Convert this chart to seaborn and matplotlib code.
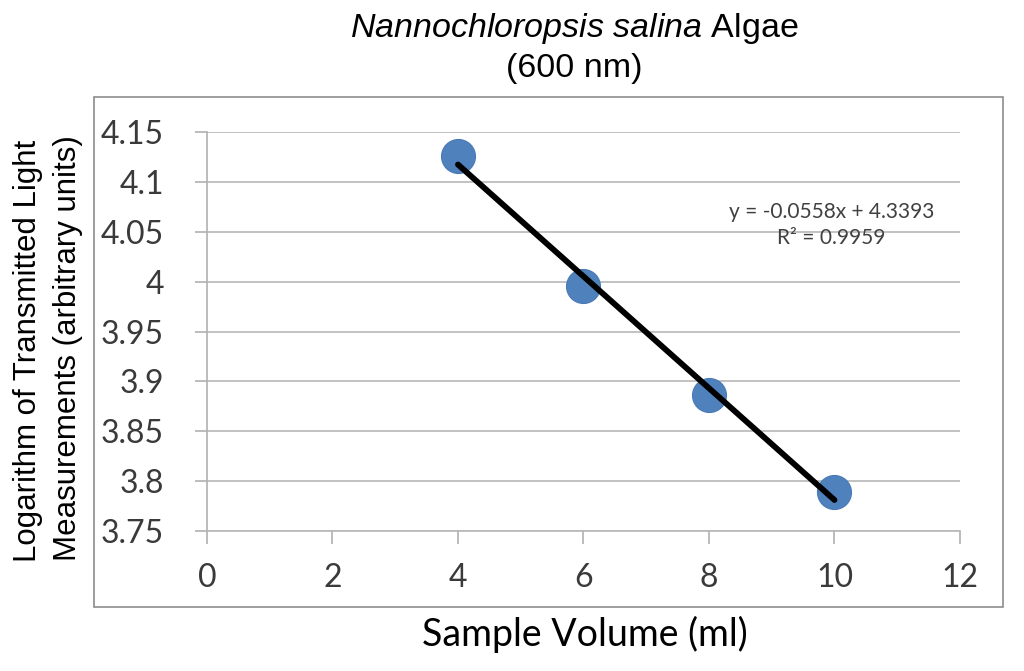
import matplotlib
matplotlib.use('Agg')
import matplotlib.pyplot as plt
import seaborn as sns
import pandas as pd
from matplotlib.patches import Rectangle

# data
volume = [4, 6, 8, 10]
log_light = [4.126, 3.996, 3.886, 3.789]
x_ticks = [0, 2, 4, 6, 8, 10, 12]
y_ticks = [3.75, 3.8, 3.85, 3.9, 3.95, 4.0, 4.05, 4.1, 4.15]
y_tick_labels = ['3.75', '3.8', '3.85', '3.9', '3.95', '4', '4.05', '4.1', '4.15']
equation = 'y = -0.0558x + 4.3393'
r_squared = 'R² = 0.9959'

df = pd.DataFrame({'volume': volume, 'log_light': log_light})

sns.set_style('white')
plt.rcParams['font.family'] = ['Liberation Sans', 'DejaVu Sans']
plt.rcParams['mathtext.fontset'] = 'custom'
plt.rcParams['mathtext.it'] = 'Liberation Sans:italic'
plt.rcParams['mathtext.rm'] = 'Liberation Sans'
tick_font = ['Lato', 'DejaVu Sans']

fig = plt.figure(figsize=(10.24, 6.71), dpi=100)
ax = fig.add_axes([0.2021, 0.2086, 0.7354, 0.5947])

# outer chart border
fig.patches.append(Rectangle((0.0918, 0.0954), 0.8877, 0.76, transform=fig.transFigure,
                             fill=False, edgecolor='#8c8c8c', linewidth=1.2))

sns.regplot(data=df, x='volume', y='log_light', scatter=False, ci=None, truncate=True,
            color='black', line_kws={'linewidth': 4.2, 'zorder': 4}, ax=ax)
sns.scatterplot(data=df, x='volume', y='log_light', s=600, color='#4f81bd',
                edgecolor='#4a7ab5', linewidth=0.8, zorder=3, ax=ax)

ax.set_xlim(0, 12)
ax.set_ylim(3.75, 4.15)
ax.set_xticks(x_ticks)
ax.set_yticks(y_ticks)
ax.set_yticklabels(y_tick_labels)
for lab in ax.get_xticklabels() + ax.get_yticklabels():
    lab.set_family(tick_font)
    lab.set_fontsize(23)
    lab.set_color('#3a3a3a')

ax.yaxis.grid(True, color='#b8b8b8', linewidth=1.2)
ax.xaxis.grid(False)
for side in ['top', 'right']:
    ax.spines[side].set_visible(False)
ax.spines['left'].set_color('#b0b0b0')
ax.spines['bottom'].set_color('#b8b8b8')
ax.spines['left'].set_linewidth(1.2)
ax.spines['bottom'].set_linewidth(1.2)
ax.tick_params(axis='both', which='major', direction='out', length=9, width=1.2,
               color='#b0b0b0', left=True, bottom=True)
ax.tick_params(axis='y', pad=22)
ax.tick_params(axis='x', pad=14)

ax.set_xlabel('')
ax.set_ylabel('')

ax.text(0.829, 0.80, equation, transform=ax.transAxes, ha='center', va='center',
        fontsize=15, color='#404040', family=tick_font)
ax.text(0.829, 0.734, r_squared, transform=ax.transAxes, ha='center', va='center',
        fontsize=15, color='#404040', family=tick_font)

# title
fig.text(0.561, 0.958, r'$\it{Nannochloropsis\ salina}$ Algae', ha='center',
         va='center', fontsize=24.5, color='black')
fig.text(0.561, 0.898, '(600 nm)', ha='center', va='center', fontsize=24.5,
         color='black')

# axis labels
fig.text(0.027, 0.477, 'Logarithm of Transmitted Light', rotation=90, ha='center',
         va='center', fontsize=22.5, color='black')
fig.text(0.066, 0.482, 'Measurements (arbitrary units)', rotation=90, ha='center',
         va='center', fontsize=22.5, color='black')
fig.text(0.571, 0.054, 'Sample Volume (ml)', ha='center', va='center',
         fontsize=27, family=tick_font, color='black')

fig.savefig('out.png', dpi=100)
